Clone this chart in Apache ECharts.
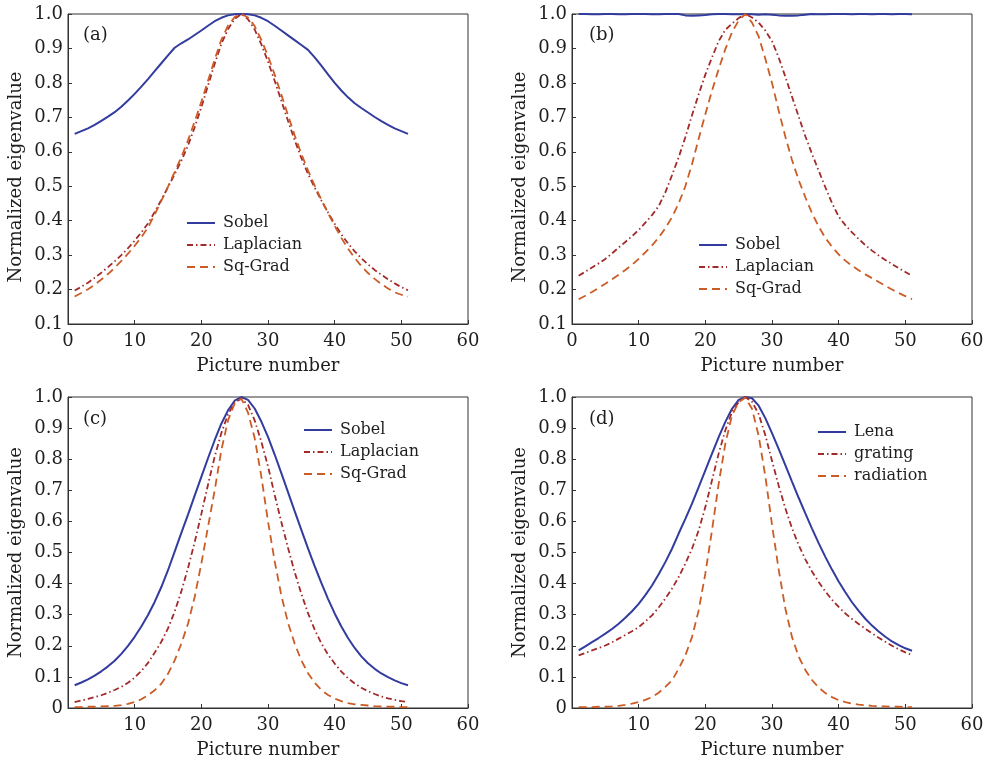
<!DOCTYPE html>
<html>
<head>
<meta charset="utf-8">
<script src="https://cdn.jsdelivr.net/npm/echarts@6/dist/echarts.min.js"></script>
<style>html,body{margin:0;padding:0;background:#fff}#c{width:990px;height:764px}</style>
</head>
<body>
<div id="c"></div>
<script>
// Picture numbers
var pictureNumbers = [1,2,3,4,5,6,7,8,9,10,11,12,13,14,15,16,17,18,19,20,21,22,23,24,25,26,27,28,29,30,31,32,33,34,35,36,37,38,39,40,41,42,43,44,45,46,47,48,49,50,51];
var xTicks = [0,10,20,30,40,50,60];

// (a)
var aSobel = [0.652,0.660,0.668,0.678,0.690,0.702,0.715,0.731,0.749,0.768,
  0.789,0.811,0.834,0.857,0.880,0.902,0.915,0.926,0.939,0.952,
  0.966,0.979,0.989,0.996,0.999,1.000,0.999,0.996,0.989,0.979,
  0.966,0.952,0.938,0.924,0.910,0.896,0.874,0.850,0.825,0.800,
  0.778,0.758,0.741,0.727,0.714,0.701,0.689,0.678,0.668,0.660,0.652];
var aLaplacian = [0.197,0.208,0.220,0.234,0.249,0.265,0.282,0.300,0.320,0.342,
  0.366,0.392,0.425,0.460,0.497,0.535,0.574,0.618,0.671,0.729,
  0.792,0.855,0.913,0.956,0.986,1.000,0.985,0.955,0.912,0.862,
  0.806,0.748,0.690,0.634,0.582,0.536,0.496,0.459,0.424,0.391,
  0.360,0.334,0.311,0.291,0.273,0.257,0.243,0.230,0.218,0.207,0.198];
var aSqGrad = [0.180,0.190,0.201,0.214,0.229,0.245,0.263,0.283,0.304,0.327,
  0.352,0.380,0.418,0.458,0.499,0.541,0.585,0.633,0.688,0.745,
  0.806,0.868,0.925,0.966,0.991,1.000,0.990,0.965,0.925,0.878,
  0.824,0.766,0.706,0.648,0.594,0.546,0.502,0.461,0.422,0.385,
  0.350,0.319,0.292,0.268,0.248,0.231,0.216,0.203,0.192,0.185,0.180];

// (b)
var bSobel = [1.000,1.000,0.999,0.999,1.000,1.000,0.999,0.999,1.000,1.000,
  1.000,0.999,0.999,1.000,1.000,1.000,0.996,0.995,0.996,0.997,
  0.999,1.000,1.000,0.999,0.999,1.000,0.999,0.998,0.999,0.998,
  0.996,0.995,0.995,0.996,0.998,1.000,0.999,0.999,1.000,1.000,
  1.000,0.999,1.000,1.000,0.999,1.000,1.000,0.999,1.000,1.000,0.999];
var bLaplacian = [0.240,0.252,0.264,0.276,0.289,0.305,0.322,0.338,0.355,0.373,
  0.394,0.416,0.442,0.482,0.532,0.584,0.642,0.706,0.767,0.824,
  0.874,0.921,0.954,0.972,0.988,1.000,0.990,0.975,0.952,0.921,
  0.874,0.818,0.760,0.702,0.645,0.594,0.545,0.497,0.451,0.412,
  0.387,0.366,0.347,0.329,0.313,0.299,0.286,0.274,0.262,0.251,0.240];
var bSqGrad = [0.172,0.182,0.193,0.205,0.217,0.230,0.243,0.257,0.272,0.289,
  0.308,0.328,0.351,0.378,0.410,0.450,0.500,0.564,0.638,0.709,
  0.777,0.840,0.898,0.947,0.981,1.000,0.975,0.935,0.870,0.800,
  0.720,0.644,0.576,0.518,0.468,0.422,0.383,0.350,0.324,0.302,
  0.284,0.269,0.256,0.244,0.233,0.222,0.211,0.200,0.190,0.181,0.172];

// (c)
var cSobel = [0.073,0.082,0.092,0.104,0.118,0.134,0.152,0.174,0.200,0.229,
  0.262,0.299,0.341,0.389,0.443,0.503,0.563,0.622,0.683,0.743,
  0.803,0.861,0.914,0.957,0.988,1.000,0.991,0.963,0.921,0.872,
  0.815,0.755,0.694,0.633,0.573,0.513,0.456,0.402,0.351,0.304,
  0.262,0.225,0.193,0.166,0.144,0.126,0.111,0.099,0.089,0.080,0.073];
var cLaplacian = [0.019,0.024,0.029,0.035,0.041,0.049,0.058,0.068,0.081,0.098,
  0.119,0.145,0.178,0.213,0.256,0.310,0.375,0.450,0.533,0.624,
  0.718,0.808,0.884,0.944,0.982,0.995,0.975,0.925,0.856,0.777,
  0.685,0.598,0.515,0.437,0.367,0.305,0.252,0.208,0.172,0.143,
  0.117,0.096,0.079,0.065,0.054,0.045,0.037,0.031,0.026,0.022,0.019];
var cSqGrad = [0.003,0.003,0.004,0.004,0.005,0.006,0.007,0.009,0.013,0.019,
  0.028,0.041,0.057,0.078,0.110,0.153,0.207,0.271,0.357,0.464,
  0.582,0.700,0.829,0.925,0.979,0.995,0.950,0.868,0.745,0.600,
  0.472,0.362,0.274,0.207,0.153,0.112,0.081,0.058,0.042,0.030,
  0.022,0.016,0.012,0.010,0.008,0.006,0.005,0.004,0.004,0.003,0.003];

// (d)
var dLena = [0.185,0.198,0.212,0.225,0.239,0.254,0.271,0.290,0.311,0.335,
  0.363,0.394,0.430,0.469,0.512,0.561,0.608,0.657,0.710,0.764,
  0.818,0.871,0.920,0.962,0.991,1.000,0.996,0.972,0.932,0.884,
  0.833,0.781,0.728,0.676,0.626,0.577,0.530,0.486,0.445,0.407,
  0.372,0.340,0.312,0.287,0.265,0.246,0.229,0.214,0.202,0.192,0.184];
var dGrating = [0.169,0.177,0.185,0.193,0.201,0.211,0.223,0.235,0.247,0.260,
  0.278,0.298,0.323,0.352,0.384,0.421,0.464,0.512,0.571,0.646,
  0.732,0.818,0.893,0.952,0.984,1.000,0.985,0.945,0.877,0.795,
  0.715,0.642,0.578,0.524,0.478,0.439,0.405,0.375,0.348,0.325,
  0.304,0.286,0.270,0.255,0.240,0.226,0.213,0.200,0.189,0.179,0.170];
var dRadiation = [0.003,0.003,0.003,0.004,0.004,0.005,0.007,0.010,0.014,0.019,
  0.026,0.035,0.049,0.068,0.089,0.126,0.169,0.228,0.314,0.432,
  0.571,0.721,0.850,0.941,0.984,0.998,0.962,0.875,0.745,0.590,
  0.445,0.320,0.228,0.165,0.122,0.090,0.066,0.048,0.035,0.025,
  0.019,0.014,0.011,0.009,0.007,0.006,0.005,0.004,0.004,0.003,0.003];

var FONT = 'DejaVu Serif';
var TXT = '#1e1e1e';
var BLUE = '#323c9e';
var RED = '#a22a2a';
var ORANGE = '#cc5c26';
var solid = {color: BLUE, width: 2, type: 'solid'};
var dashDot = {color: RED, width: 1.8, type: [6, 3, 1.5, 3]};
var dashed = {color: ORANGE, width: 1.8, type: [8, 5]};

function pairs(ys) { return pictureNumbers.map(function (x, i) { return [x, ys[i]]; }); }
function line(name, ys, idx, style) {
  return {type: 'line', name: name, xAxisIndex: idx, yAxisIndex: idx, data: pairs(ys),
    symbol: 'none', showSymbol: false, lineStyle: style, itemStyle: {color: style.color},
    emphasis: {disabled: true}, animation: false, z: 3};
}

var grids = [
  {left: 68, top: 14, width: 400, height: 310},
  {left: 572, top: 14, width: 400, height: 310},
  {left: 68, top: 397, width: 400, height: 311},
  {left: 572, top: 397, width: 400, height: 311}
].map(function (g) { return Object.assign({show: true, borderColor: '#333', borderWidth: 1, backgroundColor: '#fff'}, g); });

function xAx(idx, hideZero) {
  return {type: 'value', gridIndex: idx, min: xTicks[0], max: xTicks[xTicks.length - 1], interval: 10,
    name: 'Picture number', nameLocation: 'middle', nameGap: 33,
    nameTextStyle: {fontFamily: FONT, fontSize: 18, color: TXT},
    axisLine: {show: true, lineStyle: {color: '#333', width: 1}},
    axisTick: {show: true, inside: true, length: 4, lineStyle: {color: '#333'}},
    axisLabel: {fontFamily: FONT, fontSize: 18, color: TXT, margin: 8,
      formatter: function (v) { return (hideZero && v === 0) ? '' : String(v); }},
    splitLine: {show: false}};
}
function yAx(idx, minV, top) {
  return {type: 'value', gridIndex: idx, min: minV, max: 1, interval: 0.1,
    name: 'Normalized eigenvalue', nameLocation: 'middle', nameGap: 43,
    nameTextStyle: {fontFamily: FONT, fontSize: 18, color: TXT, padding: top ? [0, 16, 0, 0] : 0},
    axisLine: {show: true, lineStyle: {color: '#333', width: 1}},
    axisTick: {show: true, inside: true, length: 4, lineStyle: {color: '#333'}},
    axisLabel: {fontFamily: FONT, fontSize: 18, color: TXT, margin: 5,
      formatter: function (v) { return Math.abs(v) < 1e-9 ? '0' : v.toFixed(1); }},
    splitLine: {show: false}};
}
function legendAt(left, top, names) {
  return {orient: 'vertical', left: left, top: top, data: names, itemWidth: 28, itemHeight: 14, itemGap: 6,
    padding: 0, selectedMode: false, itemStyle: {opacity: 0},
    textStyle: {fontFamily: FONT, fontSize: 16, color: TXT, lineHeight: 16, padding: [0, 0, 0, 3]}};
}
function label(t, left, top) {
  return {text: t, left: left, top: top, padding: 0,
    textStyle: {fontFamily: FONT, fontSize: 18, fontWeight: 'normal', color: TXT}};
}

var option = {
  backgroundColor: '#fff',
  animation: false,
  title: [label('(a)', 83, 26), label('(b)', 589, 26), label('(c)', 83, 410), label('(d)', 589, 410)],
  legend: [
    legendAt(186, 215, ['Sobel', 'Laplacian', 'Sq-Grad']),
    legendAt(698, 237, ['Sobel', 'Laplacian', 'Sq-Grad']),
    legendAt(303, 422, ['Sobel', 'Laplacian', 'Sq-Grad']),
    legendAt(817, 424, ['Lena', 'grating', 'radiation'])
  ],
  grid: grids,
  xAxis: [xAx(0, false), xAx(1, false), xAx(2, true), xAx(3, true)],
  yAxis: [yAx(0, 0.1, true), yAx(1, 0.1, true), yAx(2, 0, false), yAx(3, 0, false)],
  series: [
    line('Sobel', aSobel, 0, solid),
    line('Laplacian', aLaplacian, 0, dashDot),
    line('Sq-Grad', aSqGrad, 0, dashed),
    line('Sobel', bSobel, 1, solid),
    line('Laplacian', bLaplacian, 1, dashDot),
    line('Sq-Grad', bSqGrad, 1, dashed),
    line('Sobel', cSobel, 2, solid),
    line('Laplacian', cLaplacian, 2, dashDot),
    line('Sq-Grad', cSqGrad, 2, dashed),
    line('Lena', dLena, 3, solid),
    line('grating', dGrating, 3, dashDot),
    line('radiation', dRadiation, 3, dashed)
  ]
};
var chart = echarts.init(document.getElementById('c'), null, {renderer: 'canvas'});
chart.setOption(option);
</script>
</body>
</html>
